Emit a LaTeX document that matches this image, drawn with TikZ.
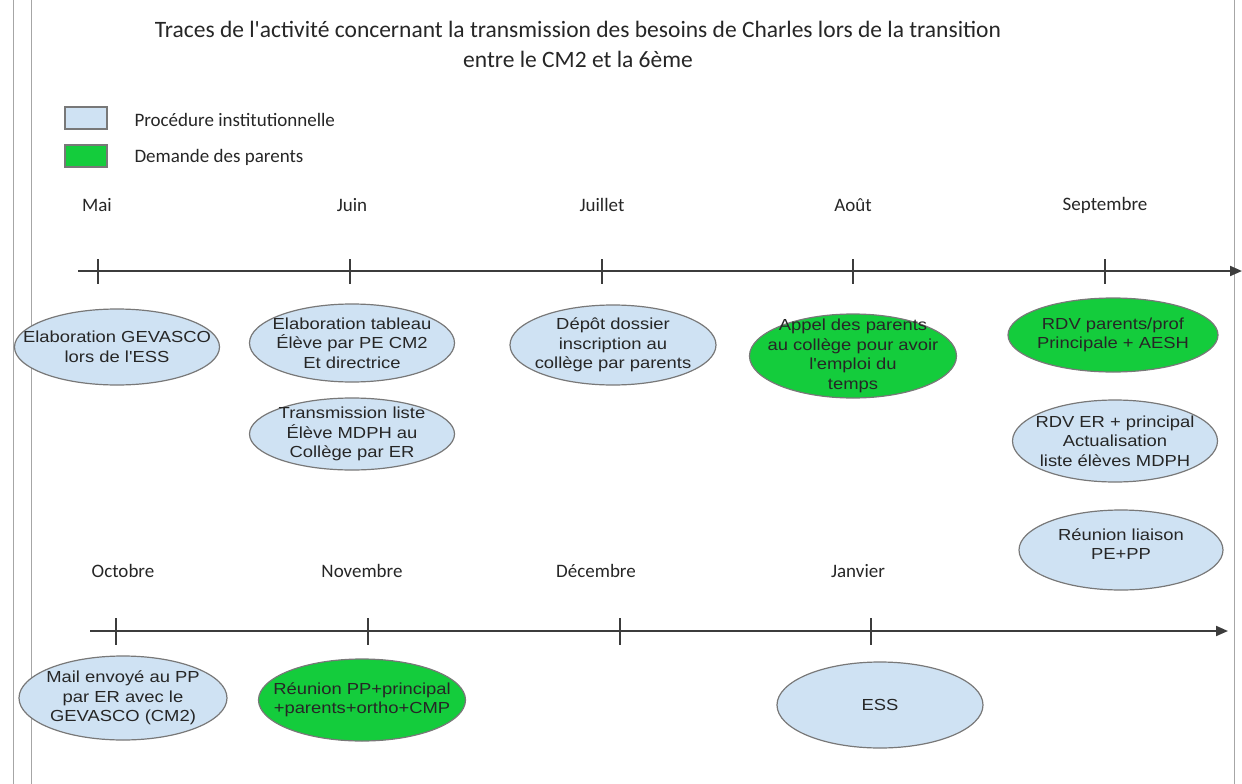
\documentclass[tikz,border=0pt]{standalone}
\usepackage{fontspec}
\setmainfont{Liberation Sans}
\newfontfamily\carl{Carlito}
\newfontfamily\evfont[FakeStretch=1.15]{Liberation Sans}
\usetikzlibrary{shapes.geometric,arrows.meta}
\definecolor{lblue}{RGB}{207,226,243}
\definecolor{pgreen}{RGB}{20,204,60}
\definecolor{bord}{RGB}{120,120,120}
\definecolor{axis}{RGB}{60,60,60}
\tikzset{
  ev/.style={ellipse,draw=bord,line width=1.2pt,inner sep=0pt},
  inst/.style={ev,fill=lblue},
  par/.style={ev,fill=pgreen},
  evtext/.style={inner sep=0pt,align=center,
    font=\evfont\fontsize{16}{19.5}\selectfont,text=black!85},
  month/.style={font=\carl\fontsize{19}{22}\selectfont,text=black!85},
  axisline/.style={draw=axis,line width=2pt,-{Triangle[length=12pt,width=10pt]}},
  tick/.style={draw=axis,line width=1.4pt},
  frame/.style={draw=black!35,line width=1pt},
}
\begin{document}
\begin{tikzpicture}[x=1pt,y=-1pt]
\useasboundingbox (0,0) rectangle (1242,784);
% frame lines
\coordinate (l1t) at (13,0); \coordinate (l1b) at (13,784);
\coordinate (l2t) at (31,0); \coordinate (l2b) at (31,784);
\coordinate (rt) at (1234,0); \coordinate (rb) at (1234,784);
\draw[frame] (l1t) -- (l1b);
\draw[frame] (l2t) -- (l2b);
\draw[frame] (rt) -- (rb);
% title
\node[font=\carl\fontsize{23.5}{30}\selectfont,align=center,text=black!85] (title) at (578,44)
 {Traces de l'activité concernant la transmission des besoins de Charles lors de la transition\\entre le CM2 et la 6ème};
% legend
\node[draw=bord,fill=lblue,line width=1.2pt,minimum width=42pt,minimum height=22pt,inner sep=0pt] (lg1) at (86,118) {};
\node[draw=bord,fill=pgreen,line width=1.2pt,minimum width=42pt,minimum height=22pt,inner sep=0pt] (lg2) at (86,156) {};
\node[font=\carl\fontsize{19}{22}\selectfont,anchor=west,text=black!85] (lt1) at (131,120) {Procédure institutionnelle};
\node[font=\carl\fontsize{19}{22}\selectfont,anchor=west,text=black!85] (lt2) at (131,157) {Demande des parents};
% axis 1
\coordinate (a1s) at (78,271); \coordinate (a1e) at (1242,271);
\draw[axisline] (a1s) -- (a1e);
\foreach \x/\n in {98/t1,350/t2,602/t3,853/t4,1105/t5}{
  \coordinate (\n u) at (\x,259); \coordinate (\n d) at (\x,284);
  \draw[tick] (\n u) -- (\n d);}
\node[month] (m1) at (97,205) {Mai};
\node[month] (m2) at (352,205) {Juin};
\node[month] (m3) at (602,205) {Juillet};
\node[month] (m4) at (853,205) {Août};
\node[month] (m5) at (1105,205) {Septembre};
% row 1 events
\node[inst,minimum width=205pt,minimum height=76pt] (e1) at (117,347) {};
\node[evtext] (e1t) at (e1) {Elaboration GEVASCO\\lors de l'ESS};
\node[inst,minimum width=205pt,minimum height=78pt] (e2) at (352,343) {};
\node[evtext] (e2t) at (e2) {Elaboration tableau\\Élève par PE CM2\\Et directrice};
\node[inst,minimum width=205pt,minimum height=72pt] (e3) at (352,434) {};
\node[evtext] (e3t) at (e3) {Transmission liste\\Élève MDPH au\\Collège par ER};
\node[inst,minimum width=206pt,minimum height=80pt] (e4) at (613,345) {};
\node[evtext] (e4t) at (e4) {Dépôt dossier\\inscription au\\collège par parents};
\node[par,minimum width=207pt,minimum height=84pt] (e5) at (853,356) {};
\node[evtext] (e5t) at (e5) {Appel des parents\\au collège pour avoir\\l'emploi du\\temps};
\node[par,minimum width=210pt,minimum height=74pt] (e6) at (1113,335) {};
\node[evtext] (e6t) at (e6) {RDV parents/prof\\Principale + AESH};
\node[inst,minimum width=205pt,minimum height=82pt] (e7) at (1115,441) {};
\node[evtext] (e7t) at (e7) {RDV ER + principal\\Actualisation\\liste élèves MDPH};
\node[inst,minimum width=204pt,minimum height=80pt] (e8) at (1121,550) {};
\node[evtext] (e8t) at ([yshift=6pt]e8) {Réunion liaison\\PE+PP};
% axis 2
\coordinate (a2s) at (90,631); \coordinate (a2e) at (1228,631);
\draw[axisline] (a2s) -- (a2e);
\foreach \x/\n in {116/s1,368/s2,620/s3,871/s4}{
  \coordinate (\n u) at (\x,618); \coordinate (\n d) at (\x,645);
  \draw[tick] (\n u) -- (\n d);}
\node[month] (n1) at (123,571) {Octobre};
\node[month] (n2) at (362,571) {Novembre};
\node[month] (n3) at (596,571) {Décembre};
\node[month] (n4) at (858,571) {Janvier};
% row 2 events
\node[inst,minimum width=208pt,minimum height=84pt] (f1) at (123,698) {};
\node[evtext] (f1t) at (f1) {Mail envoyé au PP\\par ER avec le\\GEVASCO (CM2)};
\node[par,minimum width=207pt,minimum height=82pt] (f2) at (362,700) {};
\node[evtext] (f2t) at (f2) {Réunion PP+principal\\+parents+ortho+CMP};
\node[inst,minimum width=206pt,minimum height=86pt] (f3) at (880,705) {};
\node[evtext] (f3t) at (f3) {ESS};
\end{tikzpicture}
\end{document}
